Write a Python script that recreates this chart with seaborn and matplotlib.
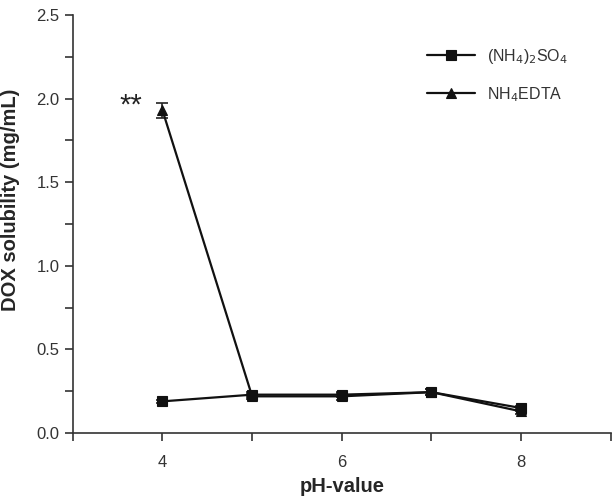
import numpy as np
import pandas as pd
import matplotlib
matplotlib.use("Agg")
import matplotlib.pyplot as plt
import seaborn as sns
from matplotlib.ticker import MultipleLocator

ph = [4, 5, 6, 7, 8]
sulfate = [0.19, 0.23, 0.23, 0.245, 0.15]
sulfate_err = [0.01, 0.015, 0.015, 0.02, 0.015]
edta = [1.93, 0.22, 0.22, 0.245, 0.13]
edta_err = [0.045, 0.015, 0.02, 0.02, 0.015]

SULF = r"(NH$_4$)$_2$SO$_4$"
EDTA = r"NH$_4$EDTA"

df = pd.DataFrame({
    "pH": ph * 2,
    "sol": sulfate + edta,
    "err": sulfate_err + edta_err,
    "salt": [SULF] * 5 + [EDTA] * 5,
})

sns.set_theme(style="ticks")
plt.rcParams["font.family"] = ["Liberation Sans", "DejaVu Sans"]

fig = plt.figure(figsize=(6.12, 4.99), dpi=100)
ax = fig.add_axes([0.119, 0.132, 0.879, 0.838])

for salt in [SULF, EDTA]:
    s = df[df["salt"] == salt]
    ax.errorbar(s["pH"], s["sol"], yerr=s["err"], fmt="none",
                ecolor="#222222", elinewidth=1.2, capsize=4, capthick=1.2, zorder=2)

sns.lineplot(data=df, x="pH", y="sol", hue="salt", style="salt",
             markers={SULF: "s", EDTA: "^"}, dashes=False,
             palette={SULF: "#111111", EDTA: "#111111"},
             markersize=7, linewidth=1.6, markeredgewidth=0.8,
             markeredgecolor="#111111", ax=ax, zorder=3)

ax.set_xlim(3, 9)
ax.set_ylim(0, 2.5)
ax.set_xticks([4, 6, 8])
ax.set_xticks([3, 5, 7, 9], minor=True)
ax.yaxis.set_minor_locator(MultipleLocator(0.25))
ax.set_yticks([0.0, 0.5, 1.0, 1.5, 2.0, 2.5])
ax.set_yticklabels(["0.0", "0.5", "1.0", "1.5", "2.0", "2.5"])
ax.tick_params(which="both", direction="out", color="#333333", labelcolor="#333333",
               labelsize=12, length=6, width=1.2)
ax.xaxis.set_tick_params(pad=10)

for side in ["top", "right"]:
    ax.spines[side].set_visible(False)
for side in ["left", "bottom"]:
    ax.spines[side].set_linewidth(1.2)
    ax.spines[side].set_color("#333333")

ax.set_xlabel("pH-value", fontsize=14.5, fontweight="bold")
ax.xaxis.set_label_coords(0.5, -0.105)
ax.set_ylabel("DOX solubility (mg/mL)", fontsize=14.5, fontweight="bold")
ax.yaxis.set_label_coords(-0.098, 0.557)

ax.text(3.65, 1.96, "**", fontsize=21, ha="center", va="center", color="#222222")

ax.legend(title=None, loc="upper right", bbox_to_anchor=(0.948, 0.958), frameon=False,
          fontsize=11.5, handlelength=3, labelspacing=1.2, labelcolor="#333333")

fig.savefig("out.png", dpi=100)
